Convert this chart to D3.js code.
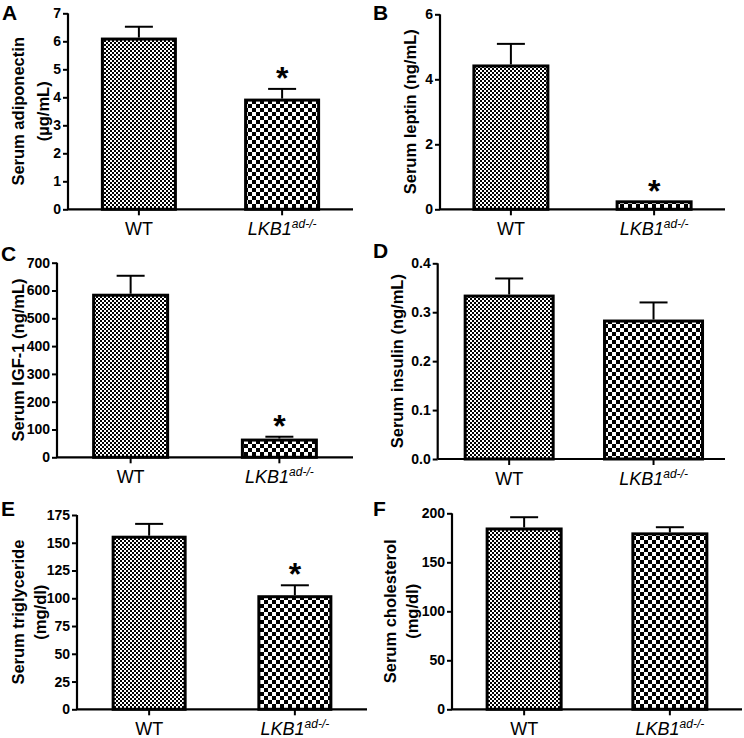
<!DOCTYPE html>
<html><head><meta charset="utf-8">
<script src="https://cdn.jsdelivr.net/npm/d3@7"></script>
<style>
html,body{margin:0;padding:0;background:#fff;}
svg{display:block;font-family:"Liberation Sans",Arial,sans-serif;}
</style></head>
<body>
<svg id="chart" width="744" height="738"></svg>
<script>
// ---------- data ----------
const categories = ["WT", "LKB1"];
const adiponectin = [6.08, 3.90];
const adiponectinErr = [0.44, 0.40];
const leptin = [4.41, 0.23];
const leptinErr = [0.68, 0.0];
const igf1 = [583, 62];
const igf1Err = [70, 12];
const insulin = [0.333, 0.282];
const insulinErr = [0.036, 0.038];
const triglyceride = [155, 101.4];
const triglycerideErr = [12, 10.3];
const cholesterol = [184, 179];
const cholesterolErr = [12, 6.8];
const significant = {A:[false,true],B:[false,true],C:[false,true],D:[false,false],E:[false,true],F:[false,false]};
const ticksA = [0,1,2,3,4,5,6,7];
const ticksB = [0,2,4,6];
const ticksC = [0,100,200,300,400,500,600,700];
const ticksD = [0.0,0.1,0.2,0.3,0.4];
const ticksE = [0,25,50,75,100,125,150,175];
const ticksF = [0,50,100,150,200];
const titles = {
  A:["Serum adiponectin","(µg/mL)"], B:["Serum leptin (ng/mL)"], C:["Serum IGF-1 (ng/mL)"],
  D:["Serum insulin (ng/mL)"], E:["Serum triglyceride","(mg/dl)"], F:["Serum cholesterol","(mg/dl)"]
};

// ---------- layout ----------
const panels = [
  {id:"A", vals:adiponectin, err:adiponectinErr, ticks:ticksA, fmt:d3.format("d"), ax:68, x1:353, yTop:13.3, y0:209.3, widths:[73,73], letter:[2,20], titleX:[18,43]},
  {id:"B", vals:leptin, err:leptinErr, ticks:ticksB, fmt:d3.format("d"), ax:440, x1:725, yTop:14.3, y0:209.3, widths:[74,74], letter:[373,20], titleX:[410]},
  {id:"C", vals:igf1, err:igf1Err, ticks:ticksC, fmt:d3.format("d"), ax:57, x1:353, yTop:262.7, y0:457.3, widths:[74,74], letter:[1,261], titleX:[18]},
  {id:"D", vals:insulin, err:insulinErr, ticks:ticksD, fmt:d3.format(".1f"), ax:437.7, x1:725, yTop:263.3, y0:459, widths:[88,98], letter:[373,258], titleX:[397]},
  {id:"E", vals:triglyceride, err:triglycerideErr, ticks:ticksE, fmt:d3.format("d"), ax:77, x1:367, yTop:515, y0:709.3, widths:[72,72], letter:[1,516], titleX:[18,40]},
  {id:"F", vals:cholesterol, err:cholesterolErr, ticks:ticksF, fmt:d3.format("d"), ax:452, x1:742, yTop:513.3, y0:709.3, widths:[74,74], letter:[373,516], titleX:[390,412]}
];

const svg = d3.select("#chart");
const defs = svg.append("defs");
function checker(id, c){
  const p = defs.append("pattern").attr("id",id).attr("patternUnits","userSpaceOnUse")
    .attr("width",2*c).attr("height",2*c);
  p.append("rect").attr("width",2*c).attr("height",2*c).attr("fill","#fff");
  p.append("rect").attr("width",c).attr("height",c).attr("fill","#000");
  p.append("rect").attr("x",c).attr("y",c).attr("width",c).attr("height",c).attr("fill","#000");
}
checker("fine",2);
checker("coarse",4);
const fills = ["url(#fine)","url(#coarse)"];

panels.forEach(P => {
  const g = svg.append("g");
  const y = d3.scaleLinear().domain([0, P.ticks[P.ticks.length-1]]).range([P.y0, P.yTop]);
  const x = d3.scaleBand().domain(categories).range([P.ax, P.x1]).paddingInner(0.49).paddingOuter(0.24);
  const cx = c => x(c) + x.bandwidth()/2;

  // bars
  g.selectAll("rect.bar").data(categories).join("rect").attr("class","bar")
    .attr("x",(c,i)=>cx(c)-P.widths[i]/2).attr("width",(c,i)=>P.widths[i])
    .attr("y",(c,i)=>y(P.vals[i])).attr("height",(c,i)=>P.y0-y(P.vals[i]))
    .attr("fill",(c,i)=>fills[i]).attr("stroke","#000").attr("stroke-width",3);

  // error bars
  categories.forEach((c,i)=>{
    if (P.err[i] <= 0) return;
    const top = y(P.vals[i]+P.err[i]);
    g.append("line").attr("x1",cx(c)).attr("x2",cx(c)).attr("y1",y(P.vals[i])-1.5).attr("y2",top)
      .attr("stroke","#000").attr("stroke-width",2);
    g.append("line").attr("x1",cx(c)-14).attr("x2",cx(c)+14).attr("y1",top).attr("y2",top)
      .attr("stroke","#000").attr("stroke-width",2);
  });

  // stars
  categories.forEach((c,i)=>{
    if (!significant[P.id][i]) return;
    const top = y(P.vals[i]+P.err[i]);
    g.append("text").attr("x",cx(c)).attr("y",top+0).attr("text-anchor","middle")
      .attr("font-size",32).attr("font-weight","bold").text("*");
  });

  // y axis
  const ya = g.append("g").attr("transform",`translate(${P.ax},0)`)
    .call(d3.axisLeft(y).tickValues(P.ticks).tickFormat(P.fmt).tickSize(5).tickPadding(2));
  ya.select(".domain").attr("stroke-width",2.2).attr("d",`M0,${P.y0}V${P.yTop}`);
  ya.selectAll(".tick line").attr("stroke-width",2);
  ya.selectAll(".tick text").attr("font-size",14).attr("font-weight","bold")
    .attr("font-family","'Liberation Sans',Arial,sans-serif").attr("fill","#000");

  // x axis
  g.append("line").attr("x1",P.ax).attr("x2",P.x1).attr("y1",P.y0).attr("y2",P.y0)
    .attr("stroke","#000").attr("stroke-width",2.2);
  categories.forEach(c=>{
    g.append("line").attr("x1",cx(c)).attr("x2",cx(c)).attr("y1",P.y0).attr("y2",P.y0+6)
      .attr("stroke","#000").attr("stroke-width",2);
  });
  g.append("text").attr("x",cx("WT")).attr("y",P.y0+26).attr("text-anchor","middle")
    .attr("font-size",18).text("WT");
  const lk = g.append("text").attr("x",cx("LKB1")).attr("y",P.y0+26).attr("text-anchor","middle")
    .attr("font-size",18).attr("font-style","italic");
  lk.append("tspan").text("LKB1");
  lk.append("tspan").attr("font-size",12).attr("dy",-7).text("ad-/-");

  // y title
  const tm = (P.y0 + P.yTop)/2;
  titles[P.id].forEach((t,k)=>{
    g.append("text").attr("transform",`translate(${P.titleX[k]},${tm}) rotate(-90)`)
      .attr("text-anchor","middle").attr("dy","0.35em").attr("font-size",16.5).attr("font-weight","bold").text(t);
  });

  // panel letter
  g.append("text").attr("x",P.letter[0]).attr("y",P.letter[1]).attr("font-size",21)
    .attr("font-weight","bold").text(P.id);
});
</script>
</body></html>
